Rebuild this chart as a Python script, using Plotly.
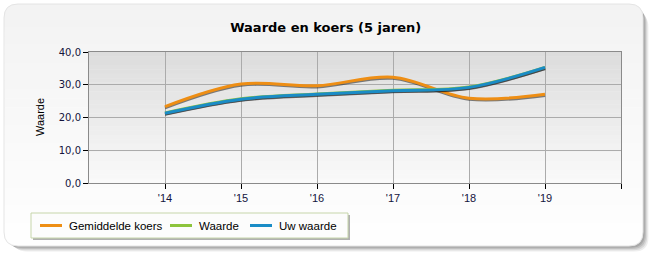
import plotly.graph_objects as go

# ---- data ----
years = [2014, 2015, 2016, 2017, 2018, 2019]
tick_vals = [2014, 2015, 2016, 2017, 2018, 2019, 2020]
tick_text = ["'14", "'15", "'16", "'17", "'18", "'19", ""]
gemiddelde_koers = [23.3, 30.2, 29.7, 32.3, 25.9, 27.1]
waarde = [21.4, 25.7, 27.2, 28.3, 29.3, 35.3]
uw_waarde = [21.3, 25.6, 27.1, 28.2, 29.2, 35.3]

series_names = ["Gemiddelde koers", "Waarde", "Uw waarde"]
series_values = [gemiddelde_koers, waarde, uw_waarde]
series_colors = ["#EE8E14", "#8DC43C", "#1A8CC6"]

W, H = 658, 258
L, R, T, B = 89, 621, 52, 183  # plot area in pixels


def px(x):
    return (x - L) / (R - L)


def py(y):
    return (B - y) / (B - T)


def rrect(x0, y0, x1, y1, r):
    """Rounded rectangle path (pixel coords) in paper coords."""
    pts = []
    X = lambda v: f"{px(v):.5f}"
    Y = lambda v: f"{py(v):.5f}"
    pts.append(f"M {X(x0 + r)},{Y(y0)}")
    pts.append(f"L {X(x1 - r)},{Y(y0)}")
    pts.append(f"Q {X(x1)},{Y(y0)} {X(x1)},{Y(y0 + r)}")
    pts.append(f"L {X(x1)},{Y(y1 - r)}")
    pts.append(f"Q {X(x1)},{Y(y1)} {X(x1 - r)},{Y(y1)}")
    pts.append(f"L {X(x0 + r)},{Y(y1)}")
    pts.append(f"Q {X(x0)},{Y(y1)} {X(x0)},{Y(y1 - r)}")
    pts.append(f"L {X(x0)},{Y(y0 + r)}")
    pts.append(f"Q {X(x0)},{Y(y0)} {X(x0 + r)},{Y(y0)} Z")
    return " ".join(pts)


def mix(c0, c1, t):
    return "rgb(%d,%d,%d)" % tuple(round(a + (b - a) * t) for a, b in zip(c0, c1))


shapes = []
# card shadow
for off, col in [(9, "#eeeeee"), (7, "#d8d8d8"), (5, "#c0c0c0"), (3, "#a8a8a8")]:
    shapes.append(dict(type="path", xref="paper", yref="paper", layer="below",
                       path=rrect(4 + off, 4 + off, 643 + off * 0.6, 246 + off * 0.6, 14),
                       fillcolor=col, line=dict(width=0)))
# card
cx0, cy0, cx1, cy1 = 4, 4, 643, 246
shapes.append(dict(type="path", xref="paper", yref="paper", layer="below",
                   path=rrect(cx0, cy0, cx1, cy1, 14), fillcolor="#fefefe", line=dict(width=0)))
shapes.append(dict(type="path", xref="paper", yref="paper", layer="below",
                   path=rrect(cx0, cy0, cx1, 40, 14), fillcolor="#f3f3f3", line=dict(width=0)))
top_c, bot_c = (243, 243, 243), (254, 254, 254)
nb = 24
g0, g1 = 18, 232
for i in range(nb):
    ya = g0 + (g1 - g0) * i / nb
    yb = g0 + (g1 - g0) * (i + 1) / nb + 0.6
    shapes.append(dict(type="rect", xref="paper", yref="paper", layer="below",
                       x0=px(cx0 + 0.5), x1=px(cx1 - 0.5), y0=py(yb), y1=py(ya),
                       fillcolor=mix(top_c, bot_c, (i + 0.5) / nb), line=dict(width=0)))
shapes.append(dict(type="path", xref="paper", yref="paper", layer="below",
                   path=rrect(cx0, cy0, cx1, cy1, 14), fillcolor="rgba(0,0,0,0)",
                   line=dict(width=1, color="#e4e4e4")))
# plot area gradient
pt, pb = (220, 220, 220), (250, 250, 250)
nb2 = 30
for i in range(nb2):
    shapes.append(dict(type="rect", xref="paper", yref="paper", layer="below",
                       x0=0, x1=1, y0=1 - (i + 1) / nb2 - 0.002, y1=1 - i / nb2,
                       fillcolor=mix(pt, pb, (i + 0.5) / nb2), line=dict(width=0)))

# legend (drawn manually)
lx0, ly0, lx1, ly1 = 31, 213, 348, 238
shapes.append(dict(type="rect", xref="paper", yref="paper", layer="above",
                   x0=px(lx0 + 2), x1=px(lx1 + 2), y0=py(ly1 + 2), y1=py(ly0 + 2),
                   fillcolor="#b0b0b0", line=dict(width=0)))
shapes.append(dict(type="rect", xref="paper", yref="paper", layer="above",
                   x0=px(lx0), x1=px(lx1), y0=py(ly1), y1=py(ly0),
                   fillcolor="#fcfcfc", line=dict(width=1, color="#c6d5aa")))
legend_items = [(40, 62, 67), (170, 192, 197), (250, 272, 277)]
annotations = []
for (sx0, sx1, tx), name, col in zip(legend_items, series_names, series_colors):
    shapes.append(dict(type="line", xref="paper", yref="paper", layer="above",
                       x0=px(sx0), x1=px(sx1), y0=py(225.5), y1=py(225.5),
                       line=dict(color=col, width=3)))
    annotations.append(dict(xref="paper", yref="paper", x=px(tx), y=py(225.5),
                            xanchor="left", yanchor="middle", showarrow=False,
                            text=name, font=dict(family="Liberation Sans, Arial", size=11.5, color="#000000")))

annotations.append(dict(xref="paper", yref="paper", x=px(40), y=py(117), textangle=-90,
                        xanchor="center", yanchor="middle", showarrow=False, text="Waarde",
                        font=dict(family="Liberation Sans, Arial", size=11, color="#000000")))

fig = go.Figure()
for name, vals, col in zip(series_names, series_values, series_colors):
    fig.add_trace(go.Scatter(x=years, y=[v - 0.35 for v in vals], mode="lines",
                             line=dict(color="rgba(30,30,30,0.55)", width=3, shape="spline", smoothing=1),
                             hoverinfo="skip", showlegend=False))
    fig.add_trace(go.Scatter(x=years, y=vals, name=name, mode="lines",
                             line=dict(color=col, width=3, shape="spline", smoothing=1)))

fig.update_layout(
    width=W, height=H,
    margin=dict(l=L, r=W - R, t=T, b=H - B, pad=0),
    paper_bgcolor="#ffffff", plot_bgcolor="rgba(0,0,0,0)",
    showlegend=False,
    separators=",.",
    title=dict(text="<b>Waarde en koers (5 jaren)</b>", xref="container", yref="container",
               x=0.495, y=1 - 27 / H, xanchor="center", yanchor="middle",
               font=dict(family="DejaVu Sans, Verdana", size=13, color="#000000")),
    shapes=shapes, annotations=annotations,
    xaxis=dict(range=[2013, 2020], tickvals=tick_vals, ticktext=tick_text,
               showgrid=True, gridcolor="#ababab", gridwidth=1,
               showline=True, linecolor="#8a8a8a", linewidth=1, mirror=True,
               ticks="outside", ticklen=5, tickcolor="#000000",
               tickfont=dict(family="Liberation Sans, Arial", size=11, color="#14143c"),
               zeroline=False, fixedrange=True),
    yaxis=dict(range=[0, 40], dtick=10, tickformat=".1f",
               showgrid=True, gridcolor="#ababab", gridwidth=1,
               showline=True, linecolor="#8a8a8a", linewidth=1, mirror=True,
               ticks="outside", ticklen=5, tickcolor="#000000",
               tickfont=dict(family="DejaVu Sans, Verdana", size=10, color="#14143c"),
               zeroline=False, fixedrange=True),
)

fig.write_html("out.html", config={"displayModeBar": False})
